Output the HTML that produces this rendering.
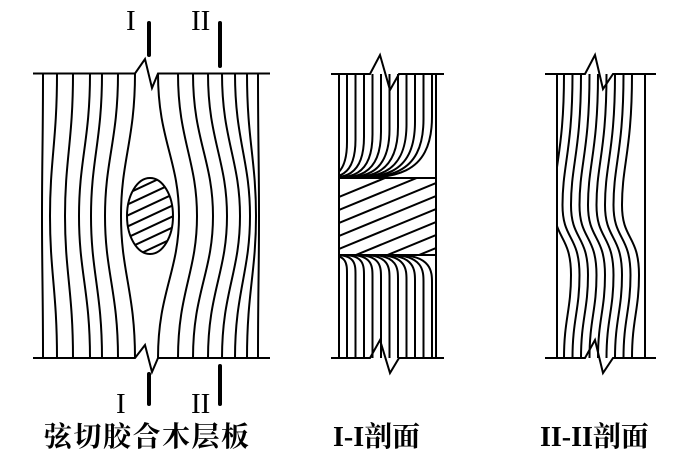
<!DOCTYPE html>
<html><head><meta charset="utf-8">
<style>
html,body{margin:0;padding:0;background:#fff;}
svg{display:block}
text{font-family:"Liberation Serif","Noto Serif CJK SC",serif;}
</style></head>
<body>
<svg id="s" width="700" height="453" viewBox="0 0 700 453" xmlns="http://www.w3.org/2000/svg">
<defs>
<clipPath id="c1"><rect x="339" y="74" width="97" height="284"/></clipPath>
<clipPath id="c2"><rect x="557" y="74" width="88" height="284"/></clipPath>
<clipPath id="ce"><ellipse cx="150" cy="216" rx="23" ry="38"/></clipPath>
<clipPath id="cb"><rect x="339" y="178" width="97" height="77"/></clipPath>
</defs>
<g fill="none" stroke="#000" stroke-width="2" id="g">
<path d="M33 73.5 H135 L145 59 L152 88 L158 73.5 H270"/>
<path d="M33 358 H135 L145 345 L152 372 L158 358 H270"/>
<ellipse cx="150" cy="216" rx="23" ry="38"/>
<path d="M331 74 H370 L380 55 L390 90 L399 74 H444"/>
<path d="M331 358 H370 L380 340 L390 373 L399 358 H444"/>
<line x1="339" y1="74" x2="339" y2="358"/>
<line x1="436" y1="74" x2="436" y2="358"/>
<line x1="339" y1="178" x2="436" y2="178"/>
<line x1="339" y1="255" x2="436" y2="255"/>
<path d="M545 74 H585 L595 55 L603 89 L613 74 H656"/>
<path d="M545 358 H585 L595 340 L603 373 L613 358 H656"/>
<line x1="557" y1="74" x2="557" y2="358"/>
<line x1="645" y1="74" x2="645" y2="358"/>
</g>
<g stroke="#000" stroke-width="4" stroke-linecap="round">
<line x1="149" y1="23" x2="149" y2="55"/>
<line x1="220" y1="23" x2="220" y2="66"/>
<line x1="149" y1="374" x2="149" y2="404"/>
<line x1="220" y1="366" x2="220" y2="404"/>
</g>
<g font-size="29" fill="#000">
<text x="126" y="30">I</text>
<text x="191" y="30">II</text>
<text x="116" y="413">I</text>
<text x="191" y="413">II</text>
</g>
<g font-size="28" font-weight="bold" fill="#000">
<text x="44" y="446" letter-spacing="1.5">弦切胶合木层板</text>
<text x="333" y="446">I-I剖面</text>
<text x="540" y="446">II-II剖面</text>
</g>
</svg>
<script>
var NS="http://www.w3.org/2000/svg",g=document.getElementById('g');
function P(d,clip){var p=document.createElementNS(NS,'path');p.setAttribute('d',d);if(clip)p.setAttribute('clip-path','url(#'+clip+')');g.appendChild(p);}
var L=[[43,42],[57,50],[73,65],[90,79],[102,91],[118,105],[135,121],[158,179],[178,197],[193,213],[208,227],[222,240],[235,250],[247,256],[258,259]];
L.forEach(function(a){var x=a[0],m=a[1];
P('M'+x+' 73.5 C'+x+' 140 '+m+' 160 '+m+' 216 C'+m+' 272 '+x+' 292 '+x+' 358');});
for(var i=-4;i<=4;i++){var c=216+i*11;P('M120 '+(c+14)+' L180 '+(c-14),'ce');}
for(var x=347;x<=432;x+=8.5){var h=16+(x-347)*0.3;P('M'+x+' 74 L'+x+' '+(178-h-20)+' C'+x+' 178 '+(x-h)+' 178 '+(x-h*2)+' 178','c1');}
for(var x=347;x<=432;x+=8.5){var h=9+(x-347)*0.1;P('M'+(x-h*2)+' 255 C'+x+' 255 '+x+' '+(255+h)+' '+x+' '+(255+h+10)+' L'+x+' 358','c1');}
for(var i=-1;i<=10;i++){var y=190+i*13;P('M339 '+(y+20)+' L436 '+(y-20),'cb');}
for(var x=564;x<=640;x+=8.5){P('M'+x+' 74 C'+x+' 150 '+(x-10)+' 165 '+(x-10)+' 205 C'+(x-10)+' 240 '+(x+7)+' 235 '+(x+7)+' 275 C'+(x+7)+' 310 '+x+' 320 '+x+' 358','c2');}
</script>
</body></html>
